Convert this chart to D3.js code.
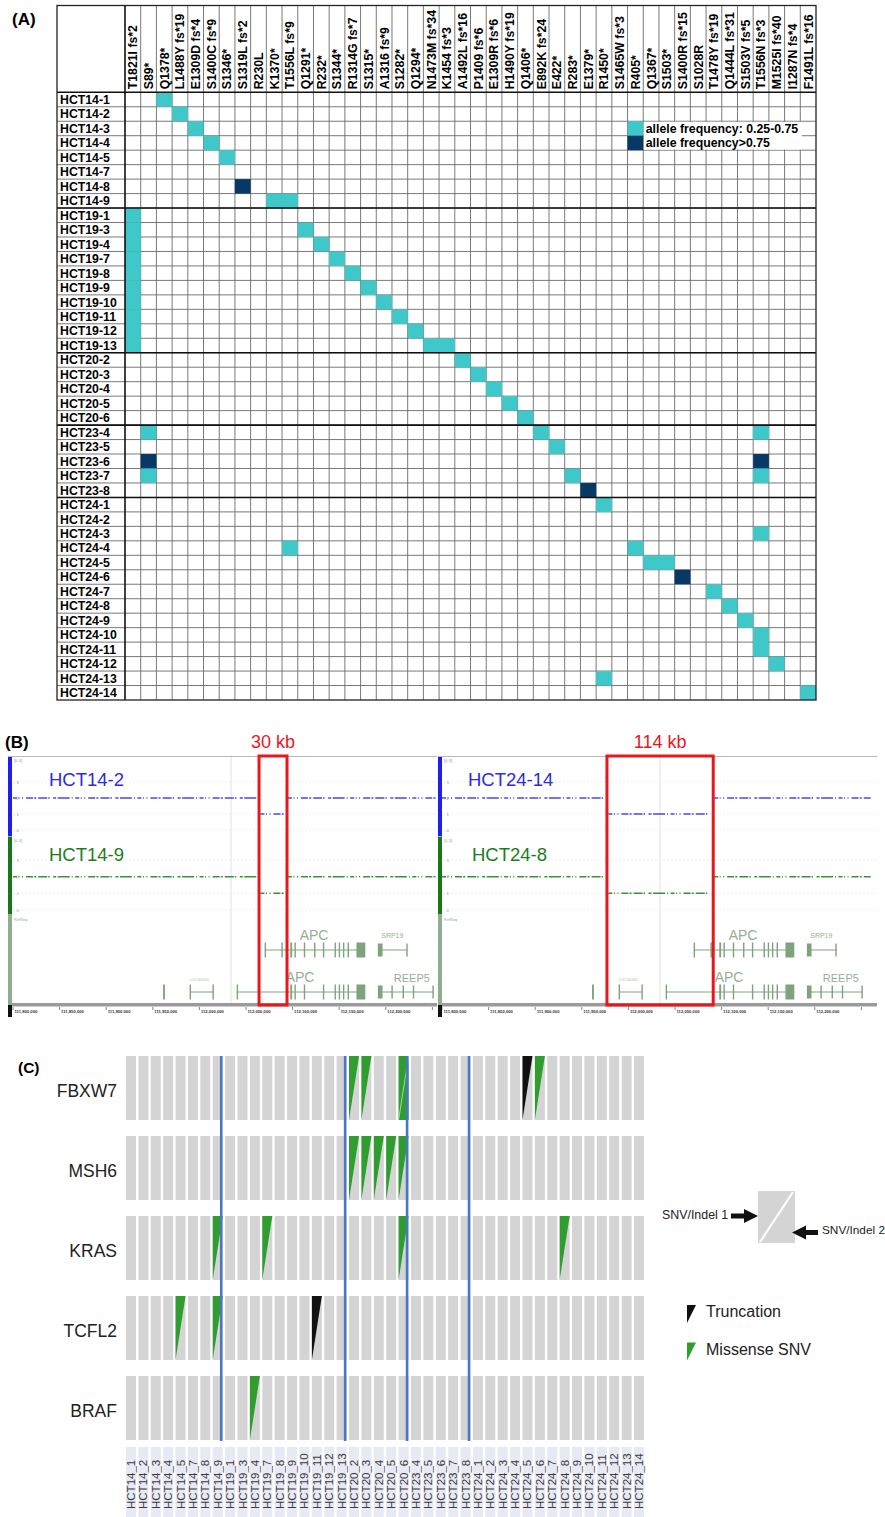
<!DOCTYPE html>
<html>
<head>
<meta charset="utf-8">
<script src="https://cdn.jsdelivr.net/npm/d3@7"></script>
<style>
  body { margin: 0; background: #fff; }
  svg { display: block; font-family: "Liberation Sans", Arial, Helvetica, sans-serif; }
</style>
</head>
<body>
<svg id="fig" width="885" height="1517"></svg>
<script>
// ---------- Panel A data: APC mutations per clone ----------
const mutationsA = [
  "T1821I fs*2", "S89*", "Q1378*", "L1488Y fs*19", "E1309D fs*4", "S1400C fs*9",
  "S1346*", "S1319L fs*2", "R230L", "K1370*", "T1556L fs*9", "Q1291*", "R232*",
  "S1344*", "R1314G fs*7", "S1315*", "A1316 fs*9", "S1282*", "Q1294*",
  "N1473M fs*34", "K1454 fs*3", "A1492L fs*16", "P1409 fs*6", "E1309R fs*6",
  "H1490Y fs*19", "Q1406*", "E892K fs*24", "E422*", "R283*", "E1379*", "R1450*",
  "S1465W fs*3", "R405*", "Q1367*", "S1503*", "S1400R fs*15", "S1028R",
  "T1478Y fs*19", "Q1444L fs*31", "S1503V fs*5", "T1556N fs*3", "M1525I fs*40",
  "I1287N fs*4", "F1491L fs*16"
];

const clones = [
  "HCT14-1", "HCT14-2", "HCT14-3", "HCT14-4", "HCT14-5", "HCT14-7", "HCT14-8", "HCT14-9",
  "HCT19-1", "HCT19-3", "HCT19-4", "HCT19-7", "HCT19-8", "HCT19-9", "HCT19-10",
  "HCT19-11", "HCT19-12", "HCT19-13",
  "HCT20-2", "HCT20-3", "HCT20-4", "HCT20-5", "HCT20-6",
  "HCT23-4", "HCT23-5", "HCT23-6", "HCT23-7", "HCT23-8",
  "HCT24-1", "HCT24-2", "HCT24-3", "HCT24-4", "HCT24-5", "HCT24-6", "HCT24-7",
  "HCT24-8", "HCT24-9", "HCT24-10", "HCT24-11", "HCT24-12", "HCT24-13", "HCT24-14"
];

// allele frequency class: 1 = 0.25-0.75, 2 = >0.75
const hitsA = [
  ["HCT14-1", "Q1378*", 1], ["HCT14-2", "L1488Y fs*19", 1], ["HCT14-3", "E1309D fs*4", 1],
  ["HCT14-4", "S1400C fs*9", 1], ["HCT14-5", "S1346*", 1], ["HCT14-8", "S1319L fs*2", 2],
  ["HCT14-9", "K1370*", 1], ["HCT14-9", "T1556L fs*9", 1],
  ["HCT19-1", "T1821I fs*2", 1], ["HCT19-3", "T1821I fs*2", 1], ["HCT19-4", "T1821I fs*2", 1],
  ["HCT19-7", "T1821I fs*2", 1], ["HCT19-8", "T1821I fs*2", 1], ["HCT19-9", "T1821I fs*2", 1],
  ["HCT19-10", "T1821I fs*2", 1], ["HCT19-11", "T1821I fs*2", 1], ["HCT19-12", "T1821I fs*2", 1],
  ["HCT19-13", "T1821I fs*2", 1],
  ["HCT19-3", "Q1291*", 1], ["HCT19-4", "R232*", 1], ["HCT19-7", "S1344*", 1],
  ["HCT19-8", "R1314G fs*7", 1], ["HCT19-9", "S1315*", 1], ["HCT19-10", "A1316 fs*9", 1],
  ["HCT19-11", "S1282*", 1], ["HCT19-12", "Q1294*", 1],
  ["HCT19-13", "N1473M fs*34", 1], ["HCT19-13", "K1454 fs*3", 1],
  ["HCT20-2", "A1492L fs*16", 1], ["HCT20-3", "P1409 fs*6", 1], ["HCT20-4", "E1309R fs*6", 1],
  ["HCT20-5", "H1490Y fs*19", 1], ["HCT20-6", "Q1406*", 1],
  ["HCT23-4", "S89*", 1], ["HCT23-4", "E892K fs*24", 1], ["HCT23-4", "T1556N fs*3", 1],
  ["HCT23-5", "E422*", 1],
  ["HCT23-6", "S89*", 2], ["HCT23-6", "T1556N fs*3", 2],
  ["HCT23-7", "S89*", 1], ["HCT23-7", "R283*", 1], ["HCT23-7", "T1556N fs*3", 1],
  ["HCT23-8", "E1379*", 2],
  ["HCT24-1", "R1450*", 1], ["HCT24-3", "T1556N fs*3", 1],
  ["HCT24-4", "T1556L fs*9", 1], ["HCT24-4", "R405*", 1],
  ["HCT24-5", "Q1367*", 1], ["HCT24-5", "S1503*", 1],
  ["HCT24-6", "S1400R fs*15", 2], ["HCT24-7", "T1478Y fs*19", 1],
  ["HCT24-8", "Q1444L fs*31", 1], ["HCT24-9", "S1503V fs*5", 1],
  ["HCT24-10", "T1556N fs*3", 1], ["HCT24-11", "T1556N fs*3", 1],
  ["HCT24-12", "M1525I fs*40", 1], ["HCT24-13", "R1450*", 1], ["HCT24-14", "F1491L fs*16", 1]
];
const afLegend = ["allele frequency: 0.25-0.75", "allele frequency>0.75"];

// ---------- Panel B data: IGV copy-number view (kb, chr5) ----------
const bTopSamples = ["HCT14-2", "HCT24-14"];
const bBottomSamples = ["HCT14-9", "HCT24-8"];
const deletions = [[112064, 112094], [111977, 112091]];
const deletionLabels = ["30 kb", "114 kb"];
const windowKb = [111800, 112260];
const centerKb = 112034;
const rulerTicksKb = d3.range(111800, 112260, 50);
// exons [start, end] in kb
const geneRow1Exons = [[112070, 112071], [112088, 112089], [112097.5, 112099.5], [112102, 112103.5],
  [112112, 112113.5], [112123, 112124.5], [112132.5, 112134], [112145, 112146.5],
  [112149.5, 112151], [112154, 112155.5], [112159, 112160.5], [112168.5, 112178]];
const geneRow1Introns = [[112070, 112178]];
const srp19Exons = [[112191.5, 112196.5], [112222, 112223.5]];
const srp19Introns = [[112192, 112223]];
const geneRow2Exons = [[111961, 111963], [111989.5, 111991], [112014, 112015.5], [112040, 112041],
  [112097.5, 112099.5], [112102, 112103.5], [112112, 112113.5], [112132.5, 112134],
  [112145, 112146.5], [112149.5, 112151], [112154, 112155.5], [112159, 112160.5], [112168.5, 112178]];
const geneRow2Introns = [[111990, 112015], [112040, 112178]];
const reep5Exons = [[112191.5, 112196.5], [112206, 112207.5], [112218, 112219], [112229, 112230], [112250, 112251.5]];
const reep5Introns = [[112192, 112251]];
const geneLabels = [
  { name: "APC", kb: 112123, row: 1, size: 14 }, { name: "SRP19", kb: 112207, row: 1, size: 7 },
  { name: "APC", kb: 112108, row: 2, size: 14 }, { name: "REEP5", kb: 112228, row: 2, size: 11 }
];

// ---------- Panel C data: driver-gene SNVs per clone ----------
const samplesC = clones.map(c => c.replace("-", "_"));
const genesC = ["FBXW7", "MSH6", "KRAS", "TCFL2", "BRAF"];
const groupEnds = ["HCT14_9", "HCT19_13", "HCT20_6", "HCT23_8"];
// [gene, sample, slot (1 = SNV/Indel 1, 2 = SNV/Indel 2), type]
const snvC = [
  ["FBXW7", "HCT20_2", 1, "Missense SNV"], ["FBXW7", "HCT20_3", 1, "Missense SNV"],
  ["FBXW7", "HCT20_6", 1, "Missense SNV"], ["FBXW7", "HCT20_6", 2, "Missense SNV"],
  ["FBXW7", "HCT24_5", 1, "Truncation"], ["FBXW7", "HCT24_6", 1, "Missense SNV"],
  ["MSH6", "HCT20_2", 1, "Missense SNV"], ["MSH6", "HCT20_3", 1, "Missense SNV"],
  ["MSH6", "HCT20_4", 1, "Missense SNV"], ["MSH6", "HCT20_5", 1, "Missense SNV"],
  ["MSH6", "HCT20_6", 1, "Missense SNV"],
  ["KRAS", "HCT14_9", 1, "Missense SNV"], ["KRAS", "HCT19_7", 1, "Missense SNV"],
  ["KRAS", "HCT20_6", 1, "Missense SNV"], ["KRAS", "HCT24_8", 1, "Missense SNV"],
  ["TCFL2", "HCT14_5", 1, "Missense SNV"], ["TCFL2", "HCT14_9", 1, "Missense SNV"],
  ["TCFL2", "HCT19_11", 1, "Truncation"],
  ["BRAF", "HCT19_4", 1, "Missense SNV"]
];
const typesC = ["Truncation", "Missense SNV"];

// ---------- drawing ----------
const svg = d3.select("#fig");
const LIGHT = "#3ec8ca", DARK = "#083865";

// Panel A ------------------------------------------------------------
const A = svg.append("g");
const aLeft = 57, aTop = 5.5, aRight = 816, aBottom = 700, aHead = 92.3, aLab = 125;
const ax = d3.scaleBand().domain(mutationsA).range([aLab, aRight]);
const ay = d3.scaleBand().domain(clones).range([aHead, aBottom]);

A.append("text").attr("x", 12).attr("y", 25).attr("font-size", 17).attr("font-weight", "bold").text("(A)");
A.append("rect").attr("x", aLeft).attr("y", aTop).attr("width", aRight - aLeft).attr("height", aBottom - aTop).attr("fill", "#fff");

// thin grid
A.selectAll("line.v").data(mutationsA.slice(1)).join("line")
  .attr("x1", d => ax(d)).attr("x2", d => ax(d)).attr("y1", aTop).attr("y2", aBottom)
  .attr("stroke", "#6a6a6a").attr("stroke-width", 0.9);
A.selectAll("line.h").data(clones.slice(1)).join("line")
  .attr("x1", aLeft).attr("x2", aRight).attr("y1", d => ay(d)).attr("y2", d => ay(d))
  .attr("stroke", "#6a6a6a").attr("stroke-width", 0.9);

// filled cells
A.selectAll("rect.hit").data(hitsA).join("rect")
  .attr("x", d => ax(d[1])).attr("y", d => ay(d[0]))
  .attr("width", ax.bandwidth()).attr("height", ay.bandwidth())
  .attr("fill", d => d[2] === 2 ? DARK : LIGHT);

// legend inside the grid
const legCol = "R405*", legRows = ["HCT14-3", "HCT14-4"];
A.append("rect").attr("x", ax(legCol) + ax.bandwidth() + 0.5).attr("y", ay(legRows[0]) + 0.6)
  .attr("width", 158).attr("height", ay.bandwidth() * 2 - 1.2).attr("fill", "#fff");
legRows.forEach((r, i) => {
  A.append("rect").attr("x", ax(legCol)).attr("y", ay(r)).attr("width", ax.bandwidth()).attr("height", ay.bandwidth())
    .attr("fill", i === 0 ? LIGHT : DARK);
  A.append("text").attr("x", ax(legCol) + ax.bandwidth() + 2.5).attr("y", ay(r) + ay.bandwidth() - 3)
    .attr("font-size", 12.3).attr("font-weight", "bold").text(afLegend[i]);
});

// heavy lines: header, label column, group separators, border
const groupFirst = ["HCT19-1", "HCT20-2", "HCT23-4", "HCT24-1"];
A.selectAll("line.grp").data(groupFirst).join("line")
  .attr("x1", aLeft).attr("x2", aRight).attr("y1", d => ay(d)).attr("y2", d => ay(d))
  .attr("stroke", "#111").attr("stroke-width", 1.6);
A.append("line").attr("x1", aLeft).attr("x2", aRight).attr("y1", aHead).attr("y2", aHead).attr("stroke", "#111").attr("stroke-width", 1.6);
A.append("line").attr("x1", aLab).attr("x2", aLab).attr("y1", aTop).attr("y2", aBottom).attr("stroke", "#111").attr("stroke-width", 1.6);
A.append("rect").attr("x", aLeft).attr("y", aTop).attr("width", aRight - aLeft).attr("height", aBottom - aTop)
  .attr("fill", "none").attr("stroke", "#222").attr("stroke-width", 1.3);

// labels
A.selectAll("text.col").data(mutationsA).join("text")
  .attr("transform", d => `translate(${ax(d) + ax.bandwidth() / 2 + 4.4},${aHead - 3}) rotate(-90)`)
  .attr("font-size", 12.3).attr("font-weight", "bold").text(d => d);
A.selectAll("text.row").data(clones).join("text")
  .attr("x", aLeft + 3).attr("y", d => ay(d) + ay.bandwidth() / 2 + 4.4)
  .attr("font-size", 12.3).attr("font-weight", "bold").text(d => d);

// Panel B ------------------------------------------------------------
const B = svg.append("g");
B.append("text").attr("x", 5).attr("y", 748).attr("font-size", 17).attr("font-weight", "bold").text("(B)");
const bFrames = [
  { x0: 8, x1: 437, origin: 13, topLabX: 49, botLabX: 49 },
  { x0: 438, x1: 877, origin: 442, topLabX: 468, botLabX: 472 }
];
const pxPerKb = 0.932;
const BLUE = "#2b2be0", GREEN = "#1d7d1d", GENE = "#7fa27f", RED = "#e8161d";
const yTrack1 = d3.scaleLinear().domain([0, 3]).range([830, 782]);
const yTrack2 = d3.scaleLinear().domain([0, 3]).range([910, 860]);
const yGene = { 1: 950, 2: 992 };

bFrames.forEach((f, i) => {
  const g = B.append("g");
  const clipId = "clipB" + i;
  svg.append("defs").append("clipPath").attr("id", clipId)
    .append("rect").attr("x", f.x0).attr("y", 700).attr("width", f.x1 - f.x0).attr("height", 330);
  const x = d3.scaleLinear().domain(windowKb).range([f.origin, f.origin + (windowKb[1] - windowKb[0]) * pxPerKb]);
  const c = g.append("g").attr("clip-path", `url(#${clipId})`);

  c.append("line").attr("x1", f.x0).attr("x2", f.x1).attr("y1", 756.5).attr("y2", 756.5).attr("stroke", "#b8b8b8");
  c.append("line").attr("x1", x(centerKb)).attr("x2", x(centerKb)).attr("y1", 757).attr("y2", 1003).attr("stroke", "#e2e2e2");

  // faint level guides
  [[yTrack1, BLUE], [yTrack2, GREEN]].forEach(([ys, col]) => {
    [0, 1, 3].forEach(l => c.append("line").attr("x1", f.x0 + 5).attr("x2", f.x1).attr("y1", ys(l)).attr("y2", ys(l))
      .attr("stroke", "#e6e6e6").attr("stroke-width", 0.7).attr("stroke-dasharray", "2 2"));
    ["0", "1", "2", "3"].forEach(l => c.append("text").attr("x", f.x0 + 6).attr("y", ys(+l) + 1.5)
      .attr("font-size", 4).attr("fill", col).attr("opacity", 0.6).text("- " + l));
  });

  // copy-number segments
  const del = deletions[i];
  const segs = [
    { a: windowKb[0], b: del[0] - 1, lvl: 2 }, { a: del[1] + 1, b: windowKb[1], lvl: 2 },
    { a: del[0] + 1.5, b: del[1] - 2.5, lvl: 1 }
  ];
  [[yTrack1, BLUE], [yTrack2, GREEN]].forEach(([ys, col]) => {
    c.selectAll(null).data(segs).join("line")
      .attr("x1", d => x(d.a)).attr("x2", d => x(d.b)).attr("y1", d => ys(d.lvl)).attr("y2", d => ys(d.lvl))
      .attr("stroke", col).attr("stroke-width", 1.5).attr("opacity", 0.85)
      .attr("stroke-dasharray", "4 1.5 1 2.5 1 3 7 1.2 2 2 9 1 1.5 3.5 3 1.5 12 2 1 2.5");
  });

  // gene tracks
  const drawGene = (exons, introns, row, big) => {
    c.selectAll(null).data(introns).join("line")
      .attr("x1", d => x(d[0])).attr("x2", d => x(d[1])).attr("y1", yGene[row]).attr("y2", yGene[row])
      .attr("stroke", GENE).attr("stroke-width", 1);
    c.selectAll(null).data(exons).join("rect")
      .attr("x", d => x(d[0])).attr("width", d => Math.max(1.4, x(d[1]) - x(d[0])))
      .attr("y", yGene[row] - big / 2).attr("height", big).attr("fill", GENE);
  };
  drawGene(geneRow1Exons, geneRow1Introns, 1, 15);
  drawGene(srp19Exons, srp19Introns, 1, 13);
  drawGene(geneRow2Exons, geneRow2Introns, 2, 15);
  drawGene(reep5Exons, reep5Introns, 2, 13);
  c.selectAll(null).data(geneLabels).join("text")
    .attr("x", d => x(d.kb)).attr("y", d => yGene[d.row] - (d.size > 10 ? 10 : 12))
    .attr("text-anchor", "middle").attr("font-size", d => d.size).attr("fill", "#94b094").text(d => d.name);
  c.append("text").attr("x", x(112000)).attr("y", 981).attr("text-anchor", "middle")
    .attr("font-size", 3.5).attr("fill", "#a8bca8").text("LOC100505");

  // ruler (labels only where they fit inside this panel)
  c.append("rect").attr("x", f.x0).attr("y", 1003).attr("width", f.x1 - f.x0).attr("height", 3.5).attr("fill", "#9a9a9a");
  const fitTicks = rulerTicksKb.filter(d => x(d) >= f.x0 && x(d) + 24 < f.x1);
  c.selectAll(null).data(fitTicks).join("text")
    .attr("x", d => x(d) + 1.5).attr("y", 1013).attr("font-size", 4.2).attr("font-weight", "bold").attr("fill", "#333")
    .text(d => d3.format(",")(d * 1000));
  c.selectAll(null).data(rulerTicksKb).join("line")
    .attr("x1", d => x(d)).attr("x2", d => x(d)).attr("y1", 1007).attr("y2", 1010).attr("stroke", "#333").attr("stroke-width", 0.6);

  // side bars
  g.append("rect").attr("x", f.x0).attr("y", 757).attr("width", 4).attr("height", 79).attr("fill", "#1e1ef0");
  g.append("rect").attr("x", f.x0).attr("y", 836.5).attr("width", 4).attr("height", 78).attr("fill", "#157a15");
  g.append("rect").attr("x", f.x0).attr("y", 915).attr("width", 4).attr("height", 90).attr("fill", "#8fae8f");
  g.append("rect").attr("x", f.x0).attr("y", 1005).attr("width", 4).attr("height", 12).attr("fill", "#111");
  g.append("text").attr("x", f.x0 + 6).attr("y", 762).attr("font-size", 4).attr("fill", BLUE).attr("opacity", 0.6).text("[0-3]");
  g.append("text").attr("x", f.x0 + 6).attr("y", 842).attr("font-size", 4).attr("fill", GREEN).attr("opacity", 0.6).text("[0-3]");
  g.append("text").attr("x", f.x0 + 6).attr("y", 921).attr("font-size", 4).attr("fill", "#8fae8f").text("RefSeq");

  // sample names
  g.append("text").attr("x", f.topLabX).attr("y", 786).attr("font-size", 18.5).attr("fill", BLUE).text(bTopSamples[i]);
  g.append("text").attr("x", f.botLabX).attr("y", 861).attr("font-size", 18.5).attr("fill", GREEN).text(bBottomSamples[i]);

  // deletion box
  g.append("rect").attr("x", x(del[0])).attr("y", 756).attr("width", x(del[1]) - x(del[0])).attr("height", 249)
    .attr("fill", "none").attr("stroke", RED).attr("stroke-width", 3);
  g.append("text").attr("x", (x(del[0]) + x(del[1])) / 2).attr("y", 748).attr("text-anchor", "middle")
    .attr("font-size", 18).attr("fill", RED).text(deletionLabels[i]);
});

// Panel C ------------------------------------------------------------
const C = svg.append("g");
C.append("text").attr("x", 18).attr("y", 1073).attr("font-size", 15.5).attr("font-weight", "bold").text("(C)");
const cx = d3.scaleBand().domain(samplesC).range([126, 644]).paddingInner(0.193);
const cy = d3.scaleBand().domain(genesC).range([1056, 1440]).paddingInner(0.2);
const typeColor = { "Truncation": "#111", "Missense SNV": "#2f9e2f" };

const cells = genesC.flatMap(g => samplesC.map(s => ({ g, s })));
C.selectAll("rect.cell").data(cells).join("rect")
  .attr("x", d => cx(d.s)).attr("y", d => cy(d.g)).attr("width", cx.bandwidth()).attr("height", cy.bandwidth())
  .attr("fill", "#d4d4d4");

const tri = (x0, x1, y0, y1, slot) => slot === 1
  ? `M${x0},${y0}L${x1},${y0}L${x0},${y1}Z`
  : `M${x1},${y0}L${x1},${y1}L${x0},${y1}Z`;
C.selectAll("path.snv").data(snvC).join("path")
  .attr("d", d => tri(cx(d[1]), cx(d[1]) + cx.bandwidth(), cy(d[0]), cy(d[0]) + cy.bandwidth(), d[2]))
  .attr("fill", d => typeColor[d[3]]);
// diagonal split visible where both slots carry a variant
const doubles = snvC.filter(d => d[2] === 2);
C.selectAll("line.diag").data(doubles).join("line")
  .attr("x1", d => cx(d[1])).attr("y1", d => cy(d[0]) + cy.bandwidth())
  .attr("x2", d => cx(d[1]) + cx.bandwidth()).attr("y2", d => cy(d[0]))
  .attr("stroke", "#b6e0b0").attr("stroke-width", 0.8);

C.selectAll("line.sep").data(groupEnds).join("line")
  .attr("x1", d => cx(d) + cx.bandwidth() - 1.5).attr("x2", d => cx(d) + cx.bandwidth() - 1.5)
  .attr("y1", 1056).attr("y2", 1441).attr("stroke", "#4a76c6").attr("stroke-width", 2.6);

C.selectAll("text.gene").data(genesC).join("text")
  .attr("x", 117).attr("y", d => cy(d) + cy.bandwidth() / 2 + 9).attr("text-anchor", "end")
  .attr("font-size", 17.5).attr("fill", "#222").text(d => d);

C.selectAll("rect.lab").data(samplesC).join("rect")
  .attr("x", d => cx(d)).attr("y", 1447).attr("width", cx.bandwidth()).attr("height", 80).attr("fill", "#e7e9f5");
C.selectAll("text.lab").data(samplesC).join("text")
  .attr("transform", d => `translate(${cx(d) + cx.bandwidth() / 2 + 4},1509) rotate(-90)`)
  .attr("font-size", 11.5).attr("fill", "#3a3a3a").text(d => d);

// legend: SNV/Indel slots
const lg = C.append("g");
const sq = { x: 758, y: 1191, w: 37, h: 52 };
lg.append("rect").attr("x", sq.x).attr("y", sq.y).attr("width", sq.w).attr("height", sq.h).attr("fill", "#d4d4d4");
lg.append("line").attr("x1", sq.x + 2).attr("y1", sq.y + sq.h - 1).attr("x2", sq.x + sq.w - 2).attr("y2", sq.y + 1)
  .attr("stroke", "#fff").attr("stroke-width", 2.2);
lg.append("path").attr("d", "M731,1213.5L744,1213.5L744,1209L758,1216L744,1223L744,1218.5L731,1218.5Z").attr("fill", "#111");
lg.append("path").attr("d", "M792,1232.5L806,1225.5L806,1230L818,1230L818,1235L806,1235L806,1239.5Z").attr("fill", "#111");
lg.append("text").attr("x", 662).attr("y", 1219).attr("font-size", 12.4).attr("fill", "#222").text("SNV/Indel 1");
lg.append("text").attr("x", 822).attr("y", 1234).attr("font-size", 11.8).attr("fill", "#222").text("SNV/Indel 2");

// legend: variant types
typesC.forEach((t, i) => {
  const y0 = 1305 + i * 37.5;
  lg.append("path").attr("d", tri(687, 696, y0, y0 + 18, 1)).attr("fill", typeColor[t]);
  lg.append("text").attr("x", 706).attr("y", y0 + 12).attr("font-size", 16).attr("fill", "#222").text(t);
});
</script>
</body>
</html>
